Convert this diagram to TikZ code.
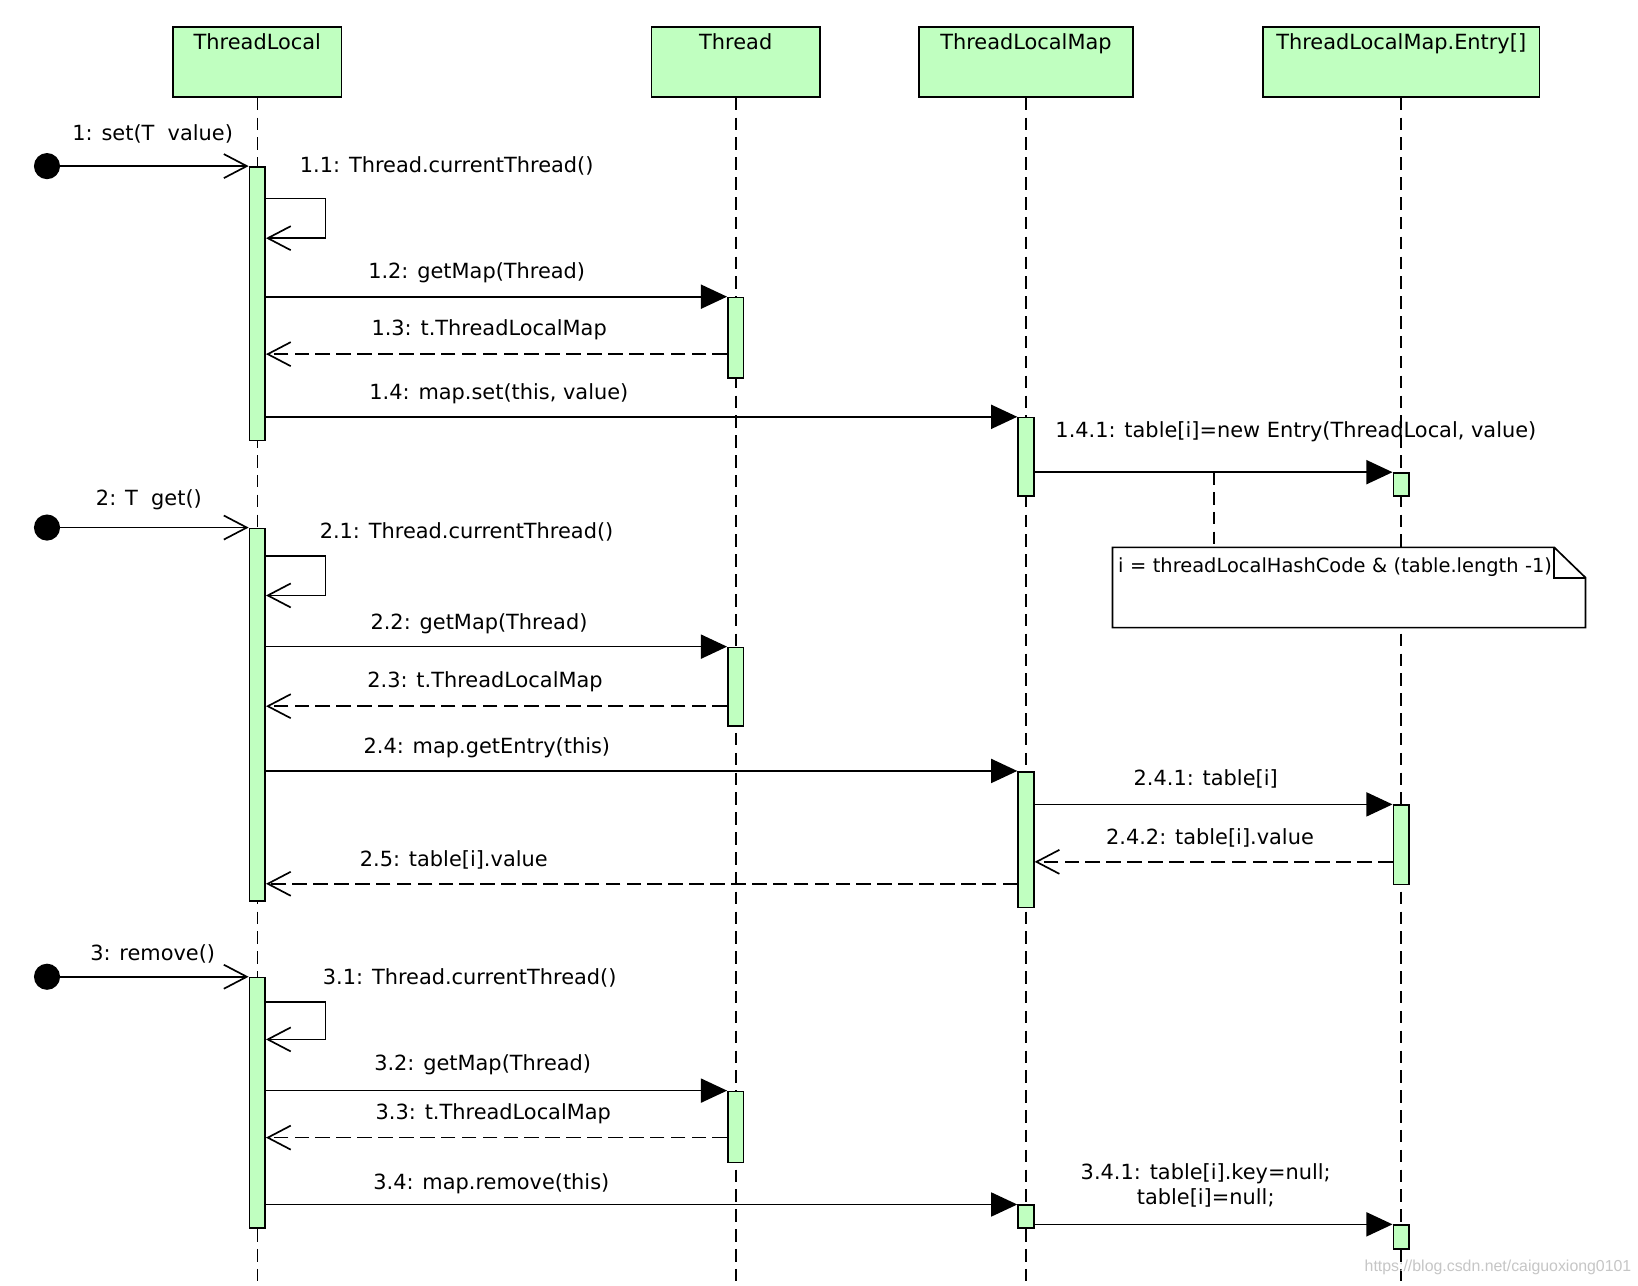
\documentclass[tikz,border=0pt]{standalone}
\usepackage{fontspec}
\setmainfont{DejaVu Sans}
\newfontfamily\wmfont{Liberation Sans}
\usetikzlibrary{positioning,arrows.meta}

\definecolor{umlgreen}{RGB}{192,255,192}

\tikzstyle{obj} = [rectangle, draw, fill=umlgreen, line width=0.8pt, minimum height=33.5pt, inner ysep=2pt, text height=8.65pt, text depth=20.85pt, font=\fontsize{10}{12}\selectfont]
\tikzstyle{actbar} = [rectangle, draw, fill=umlgreen, line width=0.8pt, minimum width=7.5pt, inner sep=0pt, anchor=north]
\tikzstyle{msg} = [inner sep=0pt, font=\fontsize{10}{12}\selectfont]
\tikzstyle{callarrow} = [line width=0.8pt, -{Triangle[length=12.5pt, width=11.5pt]}]
\tikzstyle{openarrow} = [line width=0.8pt, -{Straight Barb[length=11pt, width=11.5pt]}]
\tikzstyle{retarrow} = [openarrow, dash pattern=on 7pt off 3pt]
\tikzstyle{lifeline} = [line width=0.75pt, dash pattern=on 6pt off 3.5pt]
\tikzstyle{startdot} = [circle, fill=black, minimum size=12.5pt, inner sep=0pt]
\tikzstyle{notebox} = [anchor=north west, inner xsep=2.5pt, inner ysep=3pt, text width=221pt, text height=9pt, text depth=23pt, align=left, font=\fontsize{9.3}{11}\selectfont]

\begin{document}
\begin{tikzpicture}[x=0.5pt, y=-0.5pt]

\fill[white] (0,0) rectangle (1568,1231);
\useasboundingbox (0,0) rectangle (1568,1231);

% objects
\node [obj, minimum width=80.5pt, anchor=north west] (tl) at (165,25) {ThreadLocal};
\node [obj, minimum width=80.5pt, right=147.7pt of tl] (th) {Thread};
\node [obj, minimum width=102.5pt, right=46.6pt of th] (tlm) {ThreadLocalMap};
\node [obj, minimum width=132.5pt, right=61.3pt of tlm] (em) {ThreadLocalMap.Entry[]};

\foreach \o in {tl,th,tlm,em}
  \draw [lifeline] (\o.south) -- (\o.south |- 0,1231);

% activations
\node [actbar, minimum height=131pt] (tl1) at (tl.south |- 0,159) {};
\node [actbar, minimum height=38.5pt] (th1) at (th.south |- 0,284) {};
\node [actbar, minimum height=37.5pt] (tlm1) at (tlm.south |- 0,399) {};
\node [actbar, minimum height=11pt] (em1) at (em.south |- 0,452) {};

\node [actbar, minimum height=178.5pt] (tl2) at (tl.south |- 0,505) {};
\node [actbar, minimum height=37.5pt] (th2) at (th.south |- 0,619) {};
\node [actbar, minimum height=65pt] (tlm2) at (tlm.south |- 0,738) {};
\node [actbar, minimum height=38pt] (em2) at (em.south |- 0,770) {};

\node [actbar, minimum height=120pt] (tl3) at (tl.south |- 0,935) {};
\node [actbar, minimum height=34pt] (th3) at (th.south |- 0,1044) {};
\node [actbar, minimum height=11pt] (tlm3) at (tlm.south |- 0,1153) {};
\node [actbar, minimum height=11.5pt] (em3) at (em.south |- 0,1172) {};

\node [startdot] (s1) at (45,159) {};
\node [startdot] (s2) at (45,505) {};
\node [startdot] (s3) at (45,935) {};

% set
\draw [openarrow] (s1) -- node[msg, pos=0.49, yshift=15.5pt] (l1) {1: set(T\ \ value)} (tl1.north west);
\draw [openarrow] (tl1.east |- 0,190) -- node[msg, pos=0, xshift=86.5pt, yshift=15.5pt] (l11) {1.1: Thread.currentThread()} ++(57,0) |- (tl1.east |- 0,228);
\draw [callarrow] (tl1.east |- 0,284) -- node[msg, pos=0.457, yshift=11.5pt] (l12) {1.2: getMap(Thread)} (th1.north west);
\draw [retarrow] (th1.west |- 0,339) -- node[msg, pos=0.516, yshift=11.5pt] (l13) {1.3: t.ThreadLocalMap} (tl1.east |- 0,339);
\draw [callarrow] (tl1.east |- 0,399) -- node[msg, pos=0.31, yshift=11pt] (l14) {1.4: map.set(this, value)} (tlm1.north west);
\draw [callarrow] (tlm1.east |- 0,452) -- coordinate[pos=0.501] (nc) node[msg, pos=0.73, yshift=19.5pt] (l141) {1.4.1: table[i]=new Entry(ThreadLocal, value)} (em1.north west);

% note
\node [notebox] (note) at (1065,524) {};
\draw [line width=0.8pt, fill=white] (note.north west) -- ([xshift=-15pt]note.north east) -- ([yshift=-14.5pt]note.north east) -- (note.south east) -- (note.south west) -- cycle;
\draw [line width=0.8pt] ([xshift=-15pt]note.north east) |- ([yshift=-14.5pt]note.north east);
\node [notebox] (notetxt) at (note.north west) {i = threadLocalHashCode \& (table.length -1)};
\draw [lifeline] (nc) -- (nc |- note.north);

% get
\draw [openarrow] (s2) -- node[msg, pos=0.47, yshift=13.5pt] (l2) {2: T\ \ get()} (tl2.north west);
\draw [openarrow] (tl2.east |- 0,532) -- node[msg, pos=0, xshift=96pt, yshift=11.5pt] (l21) {2.1: Thread.currentThread()} ++(57,0) |- (tl2.east |- 0,570);
\draw [callarrow] (tl2.east |- 0,619) -- node[msg, pos=0.462, yshift=11pt] (l22) {2.2: getMap(Thread)} (th2.north west);
\draw [retarrow] (th2.west |- 0,676) -- node[msg, pos=0.525, yshift=11.5pt] (l23) {2.3: t.ThreadLocalMap} (tl2.east |- 0,676);
\draw [callarrow] (tl2.east |- 0,738) -- node[msg, pos=0.294, yshift=11pt] (l24) {2.4: map.getEntry(this)} (tlm2.north west);
\draw [callarrow] (tlm2.east |- 0,770) -- node[msg, pos=0.478, yshift=12pt] (l241) {2.4.1: table[i]} (em2.north west);
\draw [retarrow] (em2.west |- 0,825) -- node[msg, pos=0.51, yshift=11.5pt] (l242) {2.4.2: table[i].value} (tlm2.east |- 0,825);
\draw [retarrow] (tlm2.west |- 0,846) -- node[msg, pos=0.75, yshift=11.5pt] (l25) {2.5: table[i].value} (tl2.east |- 0,846);

% remove
\draw [openarrow] (s3) -- node[msg, pos=0.49, yshift=11pt] (l3) {3: remove()} (tl3.north west);
\draw [openarrow] (tl3.east |- 0,959) -- node[msg, pos=0, xshift=97.5pt, yshift=11.5pt] (l31) {3.1: Thread.currentThread()} ++(57,0) |- (tl3.east |- 0,995);
\draw [callarrow] (tl3.east |- 0,1044) -- node[msg, pos=0.47, yshift=12.5pt] (l32) {3.2: getMap(Thread)} (th3.north west);
\draw [retarrow] (th3.west |- 0,1089) -- node[msg, pos=0.507, yshift=11.5pt] (l33) {3.3: t.ThreadLocalMap} (tl3.east |- 0,1089);
\draw [callarrow] (tl3.east |- 0,1153) -- node[msg, pos=0.30, yshift=10pt] (l34) {3.4: map.remove(this)} (tlm3.north west);
\draw [callarrow] (tlm3.east |- 0,1172) -- node[msg, pos=0.478, yshift=18.5pt, align=center] (l341) {3.4.1: table[i].key=null;\\table[i]=null;} (em3.north west);

\node [anchor=east, inner sep=0pt, text=gray!45, font=\wmfont\fontsize{7.6}{9}\selectfont] (wm) at (1562,1213) {https://blog.csdn.net/caiguoxiong0101};

\end{tikzpicture}
\end{document}
